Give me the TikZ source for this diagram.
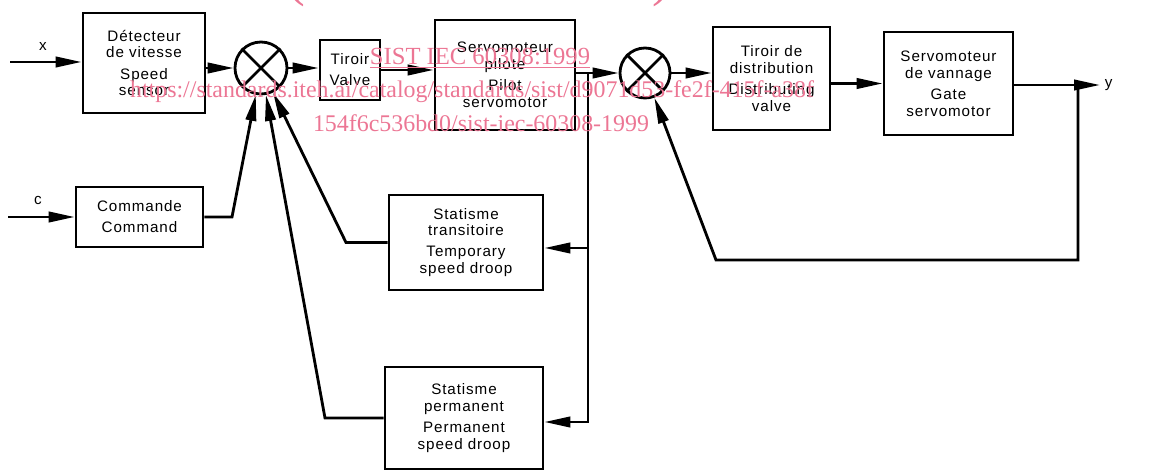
\documentclass[tikz,border=0pt]{standalone}
\usepackage{fontspec}
\setmainfont{Liberation Sans}[LetterSpace=6]
\newfontfamily\wmfont{Liberation Serif}
\usepackage{xcolor}
\usetikzlibrary{arrows.meta, calc, positioning}
\definecolor{wmpink}{RGB}{236,118,148}

\begin{document}
\begin{tikzpicture}[x=0.025cm, y=-0.025cm, >={Triangle[length=6.5mm,width=2.6mm]},
        font=\fontsize{10.8}{12}\selectfont,
        blk/.style={draw, line width=2pt, rectangle, align=center, inner sep=0pt},
        sum/.style={draw, line width=2pt, circle, inner sep=0pt, minimum size=#1},
        flow/.style={line width=2pt},
        wm/.style={text=wmpink, font=\wmfont\fontsize{17}{20}\selectfont, inner sep=0pt}]
        \useasboundingbox (0,0) rectangle (1164,471);

        % blocs
        \node[blk, minimum width=3.05cm, minimum height=2.5cm] (det) at (144,63) {Détecteur\\de vitesse\\[3pt]Speed\\sensor};
        \node[blk, minimum width=3.175cm, minimum height=1.5cm] (cmd) at (139.5,217) {Commande\\[3pt]Command};
        \node[blk, minimum width=1.5cm, minimum height=1.5cm] (valve) at (350,70) {Tiroir\\[3pt]Valve};
        \node[blk, minimum width=3.5cm, minimum height=2.75cm] (pilot) at (505,75) {Servomoteur\\pilote\\[3pt]Pilot\\servomotor};
        \node[blk, minimum width=3.85cm, minimum height=2.375cm] (trans) at (466,242.5) {Statisme\\transitoire\\[3pt]Temporary\\speed droop};
        \node[blk, minimum width=3.95cm, minimum height=2.55cm] (perm) at (464,418) {Statisme\\permanent\\[3pt]Permanent\\speed droop};
        \node[blk, minimum width=2.925cm, minimum height=2.575cm] (dist) at (771.5,78.5) {Tiroir de\\distribution\\[3pt]Distributing\\valve};
        \node[blk, minimum width=3.225cm, minimum height=2.575cm] (gate) at (948.5,83.5) {Servomoteur\\de vannage\\[3pt]Gate\\servomotor};

        % comparateurs
        \node[sum=1.3cm] (s1) at (261,68) {};
        \node[sum=1.25cm] (s2) at (645,73) {};
        \foreach \s in {s1, s2} {
            \draw[flow] (\s.north east) -- (\s.south west) (\s.north west) -- (\s.south east);
        }

        % entrees et sortie
        \coordinate (xin) at (10,62);
        \coordinate (cin) at (8,217);
        \node (xl) at (43,46) {x};
        \node (cl) at (38,200) {c};
        \node[anchor=west] (yl) at (1100,85) {y};
        \draw[flow, ->] (xin) -- (det.west |- xin);
        \draw[flow, ->] (cin) -- (cmd.west |- cin);

        % chaine directe
        \draw[flow, ->] (det.east |- s1.west) -- (s1.west);
        \draw[flow, ->] (s1.east) -- (valve.west |- s1.east);
        \draw[flow, ->] (valve.east) -- (pilot.west |- valve.east);
        \draw[flow, ->] (pilot.east |- s2.west) -- (s2.west);
        \draw[flow, ->] (s2.east) -- (dist.west |- s2.east);
        \draw[flow, ->] (dist.east |- gate.west) -- (gate.west);
        \draw[flow, ->] (gate.east |- yl.west) -- (yl.west);

        % retours
        \coordinate (jp) at (588,73);
        \coordinate (jt) at (588,248);
        \coordinate (jpm) at (588,422);
        \coordinate (jy) at (1078,85);
        \coordinate (fb) at (716,260);
        \coordinate (c1) at (232,217);
        \coordinate (t1) at (346,242.5);
        \coordinate (p1) at (325,418);
        \draw[flow, ->] (jp) |- (perm.east |- jpm);
        \draw[flow, ->] (jt) -- (trans.east |- jt);
        \draw[flow, ->] (jy) |- (fb) -- (s2);
        \draw[flow, ->] (cmd.east) -- (c1) -- (s1);
        \draw[flow, ->] (trans.west) -- (t1) -- (s1);
        \draw[flow, ->] (perm.west) -- (p1) -- (s1);

        % filigrane
        \begin{scope}
            \clip (0,0) rectangle (1164,471);
            \node[wm, font=\wmfont\fontsize{38}{40}\selectfont, anchor=base] (wm0) at (479,-4) {(standards.iteh.ai)};
        \end{scope}
        \node[wm, font=\wmfont\fontsize{17.5}{20}\selectfont] (wm1) at (480,58) {\underline{SIST IEC 60308:1999}};
        \node[wm] (wm2) at (472,92) {https://standards.iteh.ai/catalog/standards/sist/d9071d53-fe2f-415f-a38f};
        \node[wm] (wm3) at (481,123) {154f6c536bd0/sist-iec-60308-1999};
    \end{tikzpicture}
\end{document}
